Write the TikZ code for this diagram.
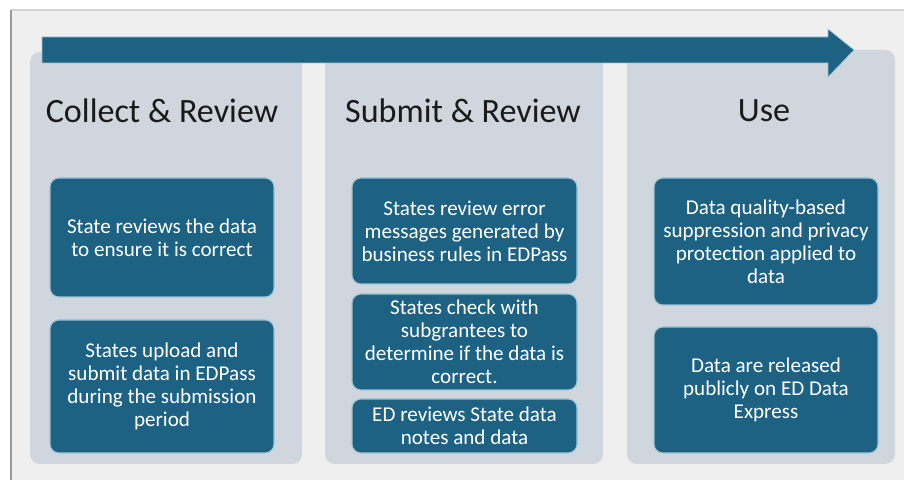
\documentclass[tikz,border=0pt]{standalone}
\usepackage{fontspec}
\setmainfont{Carlito}
\usepackage{tikz}

\definecolor{edblue}{HTML}{1D6283}
\definecolor{ededge}{HTML}{9CC3D6}
\definecolor{panelgrey}{HTML}{D0D6DD}
\definecolor{framegrey}{HTML}{EFEFEF}
\definecolor{titleink}{HTML}{1A1A1A}

\begin{document}
\begin{tikzpicture}[x=0.2mm, y=-0.2mm,
	panel/.style={rectangle, rounded corners=2mm, fill=panelgrey, inner sep=0pt},
	task/.style={rectangle, rounded corners=1.8mm, fill=edblue, draw=ededge, line width=0.6pt,
		text=white, align=center, inner sep=0pt, font=\fontsize{12pt}{13.1pt}\selectfont},
	heading/.style={text=titleink, font=\fontsize{19.4pt}{22pt}\selectfont}]
	\useasboundingbox (0,0) rectangle (904,480);

	% frame
	\fill[framegrey] (11,10) rectangle (904,480);
	\draw[color=black!17, line width=0.8pt] (11,10) -- (904,10);
	\draw[color=black!40, line width=1.1pt] (11,10) -- (11,480);

	% the three stages
	\node[panel, minimum width=272*0.2mm, minimum height=412*0.2mm] (collect) at (166,258) {};
	\node[panel, minimum width=278*0.2mm, minimum height=412*0.2mm] (submit) at (464,258) {};
	\node[panel, minimum width=268*0.2mm, minimum height=414*0.2mm] (use) at (761,257) {};

	% process arrow
	\fill[edblue, draw=ededge, line width=0.4pt] (42,37) -- (828,37) -- (828,29) -- (854,50)
		-- (828,77) -- (828,63) -- (42,63) -- cycle;

	\node[heading] (collecttitle) at (162,111) {Collect \& Review};
	\node[heading] (submittitle) at (463,111) {Submit \& Review};
	\node[heading] (usetitle) at (764,111) {Use};

	% collect & review
	\node[task, minimum width=224*0.2mm, minimum height=119*0.2mm] (review) at (162,237.5)
		{State reviews the data\\to ensure it is correct};
	\node[task, minimum width=224*0.2mm, minimum height=133*0.2mm] (upload) at (162,386.5)
		{States upload and\\submit data in EDPass\\during the submission\\period};

	% submit & review
	\node[task, minimum width=225*0.2mm, minimum height=106*0.2mm] (errors) at (464.5,231)
		{States review error\\messages generated by\\business rules in EDPass};
	\node[task, minimum width=225*0.2mm, minimum height=96*0.2mm] (subgrantees) at (464.5,342)
		{States check with\\subgrantees to\\determine if the data is\\correct.};
	\node[task, minimum width=225*0.2mm, minimum height=54*0.2mm] (notes) at (464.5,426)
		{ED reviews State data\\notes and data};

	% use
	\node[task, minimum width=224*0.2mm, minimum height=127*0.2mm] (suppress) at (766,241.5)
		{Data quality-based\\suppression and privacy\\protection applied to\\data};
	\node[task, minimum width=224*0.2mm, minimum height=126*0.2mm] (release) at (766,390)
		{Data are released\\publicly on ED Data\\Express};
\end{tikzpicture}
\end{document}
